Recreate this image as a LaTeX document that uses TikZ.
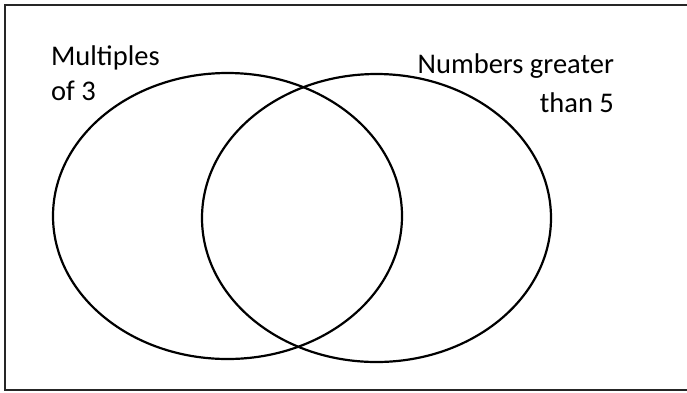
\documentclass[tikz,border=0pt]{standalone}
\usepackage{fontspec}
\setmainfont{Carlito}
\usepackage{tikz}

\begin{document}
\begin{tikzpicture}[x=1pt,y=-1pt,line width=2.2pt,
  label/.style={inner sep=0pt,font=\fontsize{28.5}{35}\selectfont}]
\useasboundingbox (0,0) rectangle (687,392);
\draw[black!85,line width=2pt] (687,5) -- (5,5) -- (5,390) -- (687,390);

\draw (227.5,216) ellipse [x radius=174.5, y radius=143];
\draw (376.5,218) ellipse [x radius=174.5, y radius=144];

\node (A) [label,anchor=base west] at (50,65) {Multiples};
\node (B) [label,anchor=base west] at (50,100) {of 3};
\node (C) [label,anchor=base east] at (615,73) {Numbers greater};
\node (D) [label,anchor=base east] at (615,112) {than 5};
\end{tikzpicture}
\end{document}
